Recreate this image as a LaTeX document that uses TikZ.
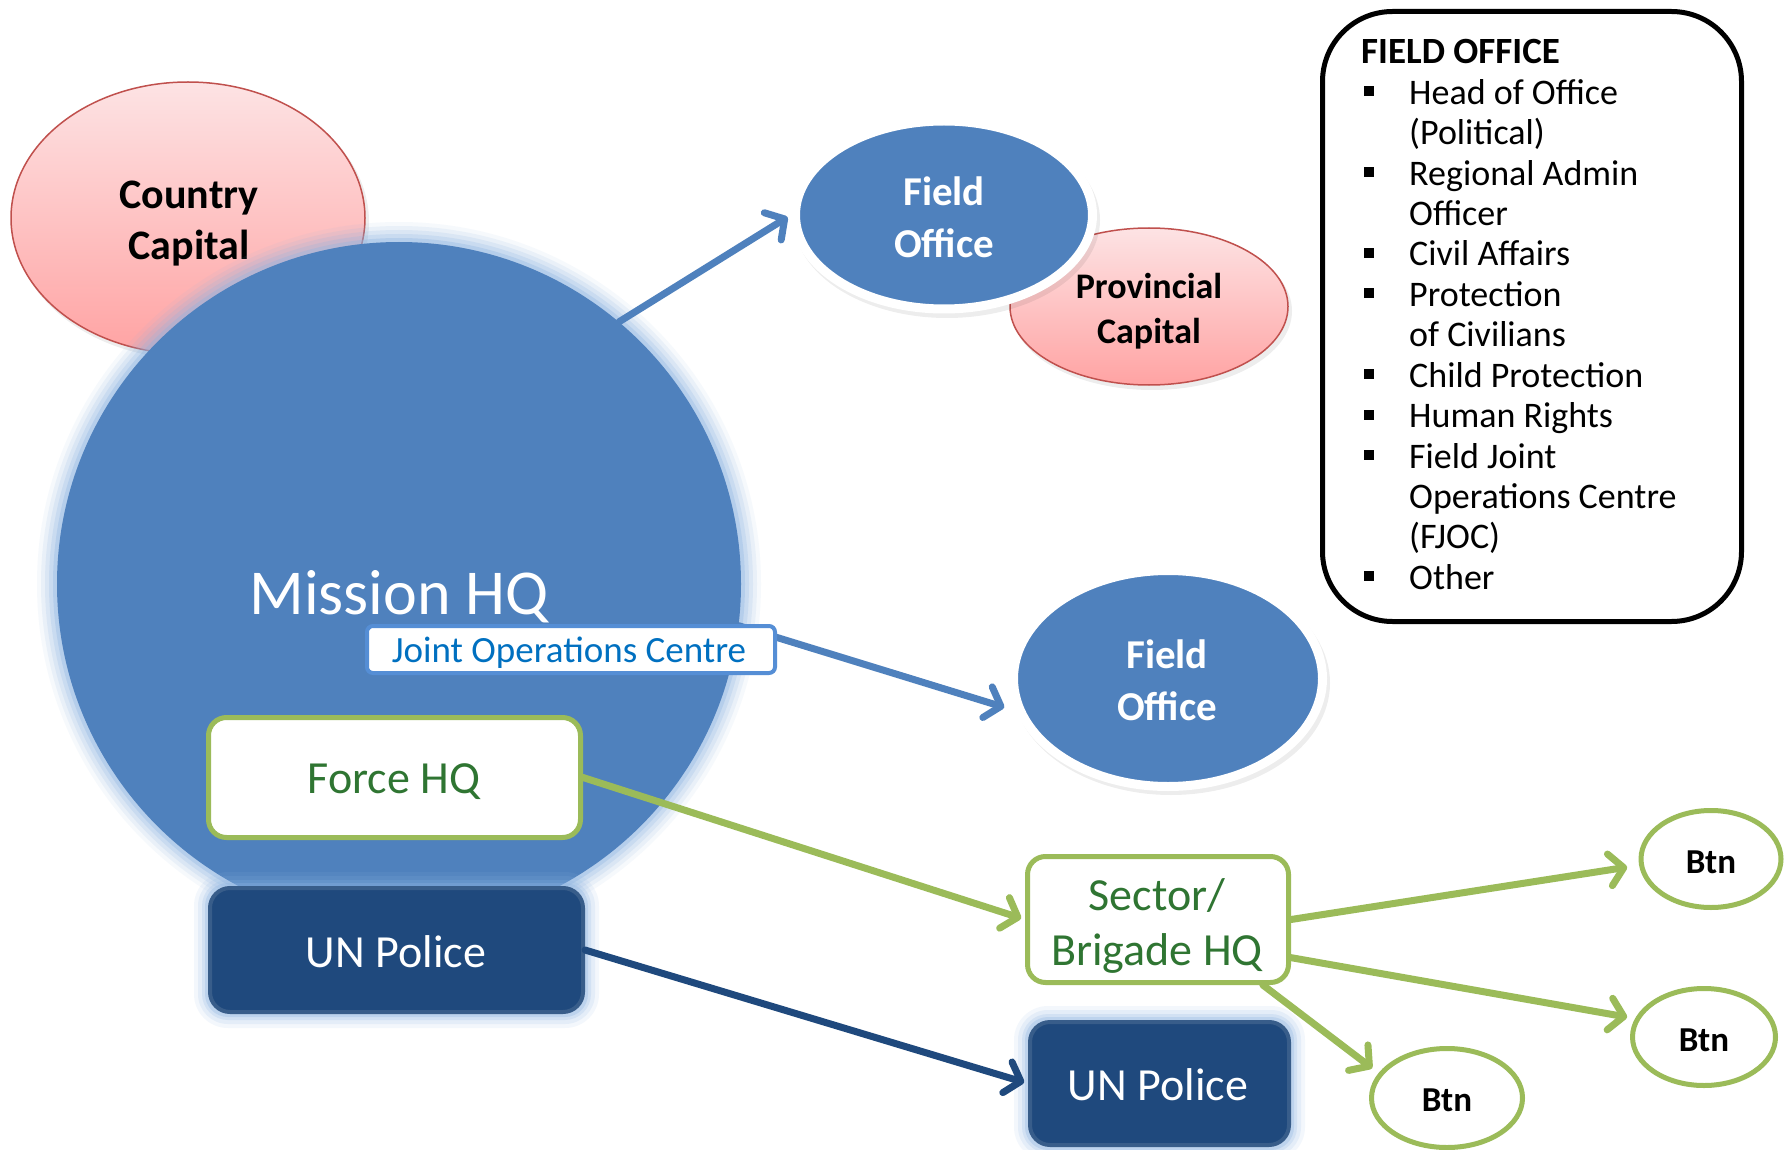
\documentclass[tikz,border=0pt]{standalone}
\usepackage{fontspec}
\setmainfont{Carlito}
\usetikzlibrary{shapes.geometric, arrows.meta}
\definecolor{acc}{HTML}{4F81BD}
\definecolor{glowc}{HTML}{8DB4E2}
\definecolor{pinkline}{HTML}{C0504D}
\definecolor{pinktop}{HTML}{FDE3E4}
\definecolor{pinkbot}{HTML}{FFA3A3}
\definecolor{grn}{HTML}{9BBB59}
\definecolor{grntext}{HTML}{2F7532}
\definecolor{navy}{HTML}{1F497D}
\definecolor{navyline}{HTML}{385D8A}
\definecolor{jocline}{HTML}{558ED5}
\definecolor{joctext}{HTML}{0070C0}
\newcommand\myfs[1]{\fontsize{#1}{#1}\selectfont}
\tikzset{
  txt/.style={inner sep=0, anchor=base},
  lst/.style={inner sep=0, anchor=base west, font=\myfs{36}},
  blueell/.style={ellipse, fill=acc, draw=white, line width=9, inner sep=0},
  pinkell/.style={ellipse, top color=pinktop, bottom color=pinkbot, draw=pinkline, line width=1.5, inner sep=0},
  btnell/.style={ellipse, draw=grn, line width=5, fill=white, inner sep=0},
  greenbox/.style={rectangle, rounded corners=18, draw=grn, line width=5, fill=white, inner sep=0},
  policebox/.style={rectangle, rounded corners=20, draw=navyline, fill=navy, line width=4, inner sep=0},
  arr/.style={line width=7, line cap=round, -{Straight Barb[length=14pt, width=32pt, round]}},
  shadowell/.style={fill=black, opacity=0.07},
}
\begin{document}
\begin{tikzpicture}[x=1pt, y=-1pt]
\path[use as bounding box, fill=white] (0,0) rectangle (1791,1150);

% Country Capital
\fill[shadowell] (191,222) ellipse[x radius=178, y radius=137];
\node[pinkell, minimum width=354, minimum height=272] (cc) at (188,218) {};
\node[txt, font=\bfseries\myfs{42}] (cc-t1) at (189,209) {Country};
\node[txt, font=\bfseries\myfs{42}] (cc-t2) at (189,260) {Capital};

% Mission HQ circle with glow
\coordinate (mhqc) at (399,584);
\foreach \d/\op in {20/0.08, 16/0.12, 12/0.16, 8/0.22, 4/0.32}
  \fill[glowc, opacity=\op] (mhqc) circle[radius={(342+\d)*1pt}];
\node[circle, fill=acc, minimum size=684, inner sep=0] (mhq) at (mhqc) {};
\node[txt, text=white, font=\myfs{64}] (mhq-t) at (399,614) {Mission HQ};

% Provincial Capital and top Field Office
\fill[shadowell] (1152,311) ellipse[x radius=140, y radius=79];
\node[pinkell, minimum width=278, minimum height=157] (pc) at (1149,306.5) {};
\node[txt, font=\bfseries\myfs{36}] (pc-t1) at (1149,299) {Provincial};
\node[txt, font=\bfseries\myfs{36}] (pc-t2) at (1149,343) {Capital};

\fill[shadowell] (947,220) ellipse[x radius=153, y radius=98];
\node[blueell, minimum width=297, minimum height=188] (fo1) at (944,215) {};
\node[txt, text=white, font=\bfseries\myfs{41}] (fo1-t1) at (944,206) {Field};
\node[txt, text=white, font=\bfseries\myfs{41}] (fo1-t2) at (944,258) {Office};

% bottom Field Office
\fill[shadowell] (1171,683) ellipse[x radius=159, y radius=112];
\node[blueell, minimum width=309, minimum height=216] (fo2) at (1168,678.5) {};
\node[txt, text=white, font=\bfseries\myfs{41}] (fo2-t1) at (1167,668) {Field};
\node[txt, text=white, font=\bfseries\myfs{41}] (fo2-t2) at (1167,720) {Office};

% arrows from Mission HQ
\draw[arr, acc, shorten >=4pt] (mhq.50) -- (fo1.west);
\draw[arr, acc, shorten >=12pt] (mhq.-7) -- (fo2.192);

% Joint Operations Centre
\node[rectangle, rounded corners=6, draw=jocline, line width=4, fill=white, minimum width=408, minimum height=47, inner sep=0] (joc) at (571,649.5) {};
\node[txt, text=joctext, font=\myfs{37}] (joc-t) at (569,662) {Joint Operations Centre};

% Force HQ
\node[greenbox, minimum width=372, minimum height=120] (fhq) at (394.5,777.5) {};
\node[txt, text=grntext, font=\myfs{46}] (fhq-t) at (394,793) {Force HQ};

% UN Police (left) with glow
\foreach \d/\op in {14/0.1, 10/0.14, 6/0.2, 3/0.3}
  \fill[glowc, opacity=\op, rounded corners={(20+\d)*1pt}] (208-\d,886-\d) rectangle (585+\d,1014+\d);
\node[policebox, minimum width=373, minimum height=124] (unp1) at (396.5,950) {};
\node[txt, text=white, font=\myfs{46}] (unp1-t) at (396,967) {UN Police};

% Sector / Brigade HQ
\node[greenbox, minimum width=261, minimum height=126] (sec) at (1158,919.5) {};
\node[txt, text=grntext, font=\myfs{46}] (sec-t1) at (1157,910) {Sector/};
\node[txt, text=grntext, font=\myfs{46}] (sec-t2) at (1157,965) {Brigade HQ};

% UN Police (right) with glow
\foreach \d/\op in {14/0.1, 10/0.14, 6/0.2, 3/0.3}
  \fill[glowc, opacity=\op, rounded corners={(20+\d)*1pt}] (1028-\d,1020-\d) rectangle (1291+\d,1147+\d);
\node[policebox, minimum width=259, minimum height=123] (unp2) at (1159.5,1083.5) {};
\node[txt, text=white, font=\myfs{46}] (unp2-t) at (1158,1100) {UN Police};

% Btn nodes
\node[btnell, minimum width=140, minimum height=97] (btn1) at (1711,859) {};
\node[txt, font=\bfseries\myfs{35}] (btn1-t) at (1711,873) {Btn};
\node[btnell, minimum width=143, minimum height=97] (btn2) at (1704,1037) {};
\node[txt, font=\bfseries\myfs{35}] (btn2-t) at (1704,1051) {Btn};
\node[btnell, minimum width=151, minimum height=99] (btn3) at (1447,1098) {};
\node[txt, font=\bfseries\myfs{35}] (btn3-t) at (1447,1111) {Btn};

% connectors
\draw[arr, grn, shorten >=4pt] (fhq.east) -- (sec.west);
\draw[arr, navy, shorten >=4pt] (unp1.east) -- (unp2.west);
\draw[arr, grn, shorten >=12pt] (sec.east) -- (btn1.185);
\draw[arr, grn, shorten >=8pt] (sec.-16) -- (btn2.165);
\draw[arr, grn, shorten >=8pt] (sec.-32) -- (btn3.160);

% FIELD OFFICE box
\node[draw=black, line width=5, rounded corners=70, minimum width=419, minimum height=610, inner sep=0] (fobox) at (1532,316.5) {};
\node[lst, font=\bfseries\myfs{37}] (fo-title) at (1361,64) {FIELD OFFICE};
\node[lst] (fo-l1) at (1409,104.4) {Head of Office};
\node[lst] (fo-l2) at (1409,144.8) {(Political)};
\node[lst] (fo-l3) at (1409,185.2) {Regional Admin};
\node[lst] (fo-l4) at (1409,225.6) {Officer};
\node[lst] (fo-l5) at (1409,266) {Civil Affairs};
\node[lst] (fo-l6) at (1409,306.4) {Protection};
\node[lst] (fo-l7) at (1409,346.8) {of Civilians};
\node[lst] (fo-l8) at (1409,387.2) {Child Protection};
\node[lst] (fo-l9) at (1409,427.6) {Human Rights};
\node[lst] (fo-l10) at (1409,468) {Field Joint};
\node[lst] (fo-l11) at (1409,508.4) {Operations Centre};
\node[lst] (fo-l12) at (1409,548.8) {(FJOC)};
\node[lst] (fo-l13) at (1409,589.2) {Other};
\foreach \b in {104.4,185.2,266,306.4,387.2,427.6,468,589.2}
  \fill[black] (1364,\b-18) rectangle (1374,\b-8);
\end{tikzpicture}
\end{document}
